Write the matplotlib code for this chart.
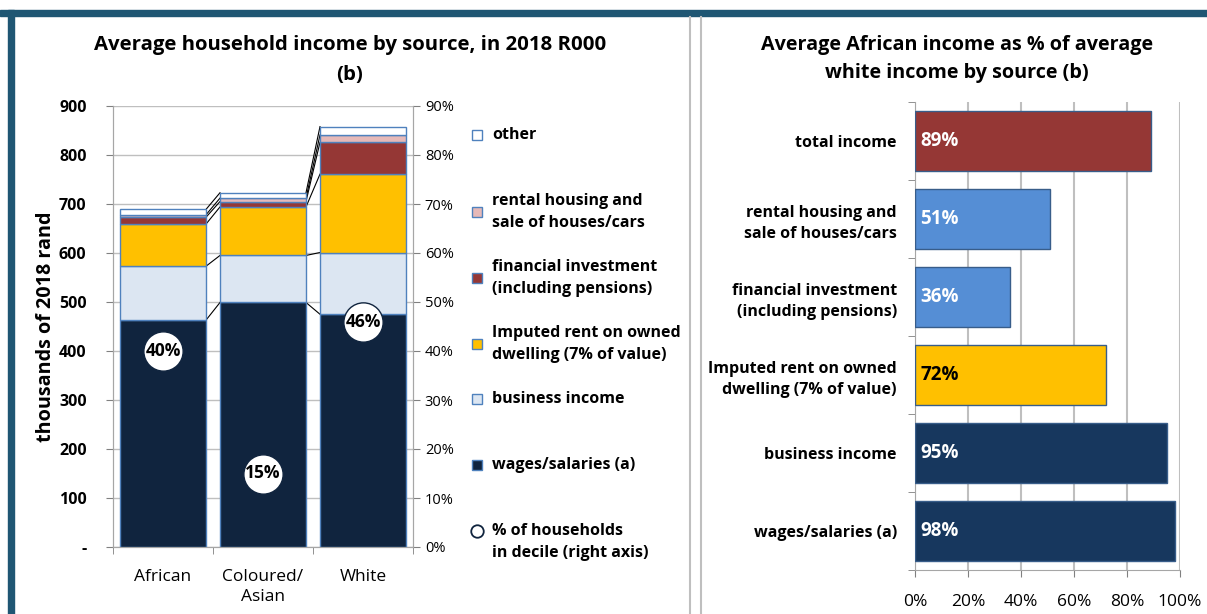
import matplotlib
matplotlib.use('Agg')
import matplotlib.pyplot as plt
from matplotlib.patches import Rectangle
from matplotlib.lines import Line2D
import numpy as np

plt.rcParams['font.family'] = ['Open Sans', 'DejaVu Sans']

# Left chart data (thousands of 2018 rand)
groups = ['African', 'Coloured/\nAsian', 'White']
wages = [463, 499, 475]
business = [110, 96, 126]
imputed = [86, 99, 160]
financial = [14, 11, 65]
rental = [5, 7, 15]
other = [11, 11, 17]
hh_share = [40, 15, 46]  # % of households in decile (right axis)

# Right chart data (African as % of white)
ratio_cats = ['total income', 'rental housing and\nsale of houses/cars',
              'financial investment\n(including pensions)',
              'Imputed rent on owned\ndwelling (7% of value)',
              'business income', 'wages/salaries (a)']
ratio_vals = [89, 51, 36, 72, 95, 98]

W, H = 1207, 614
fig = plt.figure(figsize=(W / 100, H / 100), dpi=100)

def px(x0, y0, x1, y1):
    # pixel box -> figure fraction rect
    return [x0 / W, 1 - y1 / H, (x1 - x0) / W, (y1 - y0) / H]

teal = '#1F5673'
# frame
fig.add_artist(Rectangle((0, 1 - 16 / H), 1, 6 / H, transform=fig.transFigure, color=teal))
fig.add_artist(Rectangle((8 / W, 0), 6 / W, 1 - 10 / H, transform=fig.transFigure, color=teal))
for xx in (690, 701):
    fig.add_artist(Line2D([xx / W, xx / W], [0, 1 - 17 / H], transform=fig.transFigure,
                          color='#BFBFBF', lw=1.5))

# ---------------- left chart
ax = fig.add_axes(px(113, 106, 413, 547))
series = [wages, business, imputed, financial, rental, other]
colors = ['#10243E', '#DCE6F2', '#FFC000', '#953735', '#E6B9B8', '#FFFFFF']
names = ['wages/salaries (a)', 'business income', 'Imputed rent on owned\ndwelling (7% of value)',
         'financial investment\n(including pensions)', 'rental housing and\nsale of houses/cars', 'other']
x = np.arange(len(groups))
bw = 0.86
bottom = np.zeros(len(groups))
for vals, c in zip(series, colors):
    ax.bar(x, vals, bw, bottom=bottom, color=c, edgecolor='#4F81BD', linewidth=1, zorder=3)
    bottom = bottom + np.array(vals)
    # series lines
    for i in range(len(groups) - 1):
        ax.plot([x[i] + bw / 2, x[i + 1] - bw / 2], [bottom[i], bottom[i + 1]],
                color='black', lw=0.8, zorder=2)

ax.set_xlim(-0.5, 2.5)
ax.set_ylim(0, 900)
ax.set_yticks(range(0, 901, 100))
ax.set_yticklabels(['-'] + [str(v) for v in range(100, 901, 100)], fontweight='bold', fontsize=11.5)
ax.set_xticks(x)
ax.set_xticklabels(groups, fontsize=12.5, linespacing=1.3)
ax.set_xticks([-0.5, 0.5, 1.5, 2.5], minor=True)
ax.tick_params(axis='x', which='major', length=0, pad=16)
ax.tick_params(axis='x', which='minor', length=5, color='#808080')
ax.tick_params(axis='y', length=5, color='#808080', pad=14)
ax.grid(axis='y', color='#BFBFBF', lw=1, zorder=0)
for s in ax.spines.values():
    s.set_color('#A6A6A6')
ax.spines['top'].set_visible(False)
ax.set_ylabel('thousands of 2018 rand', fontweight='bold', fontsize=14.2, labelpad=2)

ax2 = ax.twinx()
ax2.set_ylim(0, 90)
ax2.set_yticks(range(0, 91, 10))
ax2.set_yticklabels([f'{v}%' for v in range(0, 91, 10)], fontsize=10.5)
ax2.tick_params(axis='y', length=5, color='#808080')
ax2.spines['top'].set_visible(False)
for s in ax2.spines.values():
    s.set_color('#A6A6A6')
ax2.scatter(x, hh_share, s=800, facecolor='white', edgecolor='#10243E', lw=1, zorder=5)
for xi, v in zip(x, hh_share):
    ax2.text(xi, v, f'{v}%', ha='center', va='center', fontweight='bold', fontsize=12.5,
             zorder=6)

fig.text(350 / W, 1 - 45 / H, 'Average household income by source, in 2018 R000',
         ha='center', va='center', fontweight='bold', fontsize=14.7)
fig.text(350 / W, 1 - 75 / H, '(b)', ha='center', va='center', fontweight='bold', fontsize=14.7)

# legend (manual, uneven spacing as in the source)
leg_items = list(zip(names, colors))[::-1]
leg_y = [135, 212, 278, 344, 399, 465]
for (name, c), yy in zip(leg_items, leg_y):
    fig.add_artist(Rectangle((472 / W, 1 - (yy + 5) / H), 10 / W, 10 / H,
                             transform=fig.transFigure, facecolor=c, edgecolor='#4F81BD', lw=1))
    fig.text(492 / W, 1 - yy / H, name, ha='left', va='center', fontweight='bold',
             fontsize=11.5, linespacing=1.45)
fig.add_artist(Line2D([477 / W], [1 - 531 / H], transform=fig.transFigure, marker='o',
                      markersize=9, markerfacecolor='white', markeredgecolor='#10243E',
                      markeredgewidth=1.3, linestyle='none'))
fig.text(492 / W, 1 - 542 / H, '% of households\nin decile (right axis)', ha='left', va='center',
         fontweight='bold', fontsize=11.5, linespacing=1.45)

# ---------------- right chart
bx = fig.add_axes(px(915, 102, 1180, 570))
rcolors = ['#953735', '#558ED5', '#558ED5', '#FFC000', '#17375E', '#17375E']
yy = np.arange(len(ratio_cats))[::-1]
bx.barh(yy, ratio_vals, 0.76, color=rcolors, edgecolor='#385D8A', lw=1, zorder=3)
for yi, v, c in zip(yy, ratio_vals, rcolors):
    bx.text(2, yi, f'{v}%', ha='left', va='center', fontweight='bold', fontsize=13.5,
            color='black' if c == '#FFC000' else 'white', zorder=4)
bx.set_xlim(0, 100)
bx.set_ylim(-0.5, len(ratio_cats) - 0.5)
bx.set_xticks(range(0, 101, 20))
bx.set_xticklabels([f'{v}%' for v in range(0, 101, 20)], fontsize=12.5)
bx.set_yticks(yy)
bx.set_yticklabels(ratio_cats, fontweight='bold', fontsize=11.5, linespacing=1.45)
bx.set_yticks(np.arange(-0.5, len(ratio_cats)), minor=True)
bx.tick_params(axis='y', which='major', length=0, pad=13)
bx.tick_params(axis='y', which='minor', length=5, color='#808080')
bx.tick_params(axis='x', length=5, color='#808080', pad=12)
bx.grid(axis='x', color='#BFBFBF', lw=1.5, zorder=0)
for s in ['top', 'right']:
    bx.spines[s].set_visible(False)
for s in ['left', 'bottom']:
    bx.spines[s].set_color('#A6A6A6')

fig.text(957 / W, 1 - 45 / H, 'Average African income as % of average',
         ha='center', va='center', fontweight='bold', fontsize=14.2)
fig.text(957 / W, 1 - 73 / H, 'white income by source (b)',
         ha='center', va='center', fontweight='bold', fontsize=14.2)

fig.savefig('out.png', dpi=100)
